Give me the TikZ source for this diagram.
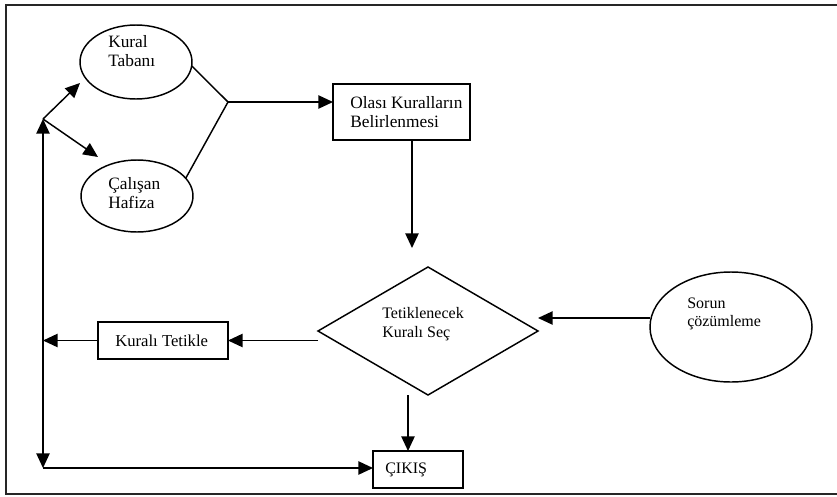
\documentclass[tikz,border=0pt]{standalone}
\usepackage{fontspec}
\setmainfont{Liberation Serif}
\usetikzlibrary{shapes.geometric,arrows.meta}
\begin{document}
\begin{tikzpicture}[x=0.75pt,y=-0.75pt,
  >={Triangle[length=11pt,width=10pt]},
  every node/.style={font=\fontsize{12}{13.8}\selectfont},
  big/.style={font=\fontsize{13}{14}\selectfont},
  mid/.style={font=\fontsize{12.5}{14.2}\selectfont},
  shapeline/.style={draw,line width=1.1pt,inner sep=0pt,outer sep=0pt},
  oval/.style={shapeline,ellipse},
  box/.style={shapeline,rectangle},
  choice/.style={shapeline,diamond},
  txt/.style={anchor=west,align=left,inner sep=0pt},
  flow/.style={line width=1.1pt,->},
  link/.style={line width=1.1pt}
]
\useasboundingbox (0,0) rectangle (837,496);

% outer frame (open on the right)
\draw[line width=1.2pt,black!85] (840,5) -- (6,5) -- (6,494) -- (840,494);

% shapes
\node[oval,minimum width=84pt,minimum height=55.5pt] (kb) at (136,62) {};
\node[oval,minimum width=84pt,minimum height=54pt] (ch) at (137,196) {};
\node[box,minimum width=102.75pt,minimum height=42pt] (olasi) at (401.5,112) {};
\node[choice,minimum width=165pt,minimum height=96pt] (dm) at (428,331) {};
\node[oval,minimum width=121.5pt,minimum height=82.5pt] (sorun) at (731,327) {};
\node[box,minimum width=97.5pt,minimum height=27.75pt] (tet) at (163,340.5) {};
\node[box,minimum width=67.5pt,minimum height=27.75pt] (cikis) at (418,469.5) {};

% labels
\node[txt,big] (kbt) at (108,51) {Kural\\Tabanı};
\node[txt,big] (cht) at (108,193) {Çalışan\\Hafiza};
\node[txt,big] (olasit) at (350,112) {Olası Kuralların\\Belirlenmesi};
\node[txt] (dmt) at (382,324) {Tetiklenecek\\Kuralı Seç};
\node[txt] (sorunt) at (687,314) {Sorun\\çözümleme};
\node[txt,mid] (tett) at (115,341) {Kuralı Tetikle};
\node[txt] (cikist) at (385,470) {ÇIKIŞ};

% connector points
\coordinate (J) at (228,102);
\coordinate (btop) at (43,119);
\coordinate (bbot) at (43,468);
\coordinate (k1) at (80,83);
\coordinate (k2) at (98,157);
\coordinate (d1) at (412,248);
\coordinate (d2) at (408,395);
\coordinate (d3) at (538,318);

% connectors
\draw[link] (kb.-4) -- (J);
\draw[link] (ch.20) -- (J);
\draw[flow] (J) -- (J -| olasi.west);
\draw[flow] (d1 |- olasi.south) -- (d1);
\draw[flow] (d3 -| sorun.west) -- (d3);
\draw[flow] (dm.west |- tet.east) -- (tet.east);
\draw[flow] (tet.west) -- (tet.west -| btop);
\draw[flow] (d2) -- (d2 |- cikis.north);
\draw[link,<->] (btop) -- (bbot);
\draw[flow] (bbot) -- (bbot -| cikis.west);
\draw[flow] (btop) -- (k1);
\draw[flow] (btop) -- (k2);
\end{tikzpicture}
\end{document}
